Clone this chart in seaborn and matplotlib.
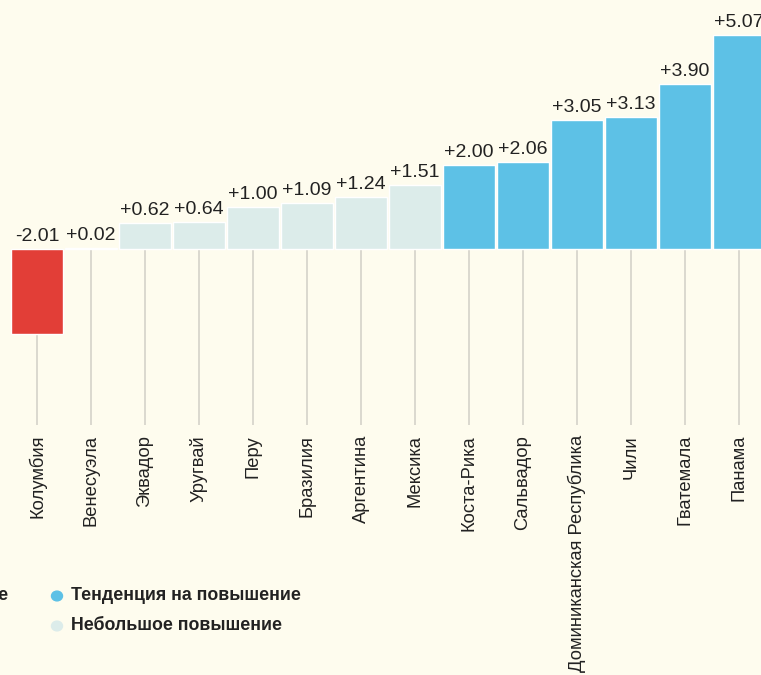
import matplotlib
matplotlib.use("Agg")
import matplotlib.pyplot as plt
import seaborn as sns
import pandas as pd

# data
countries = ["Колумбия", "Венесуэла", "Эквадор", "Уругвай", "Перу", "Бразилия",
             "Аргентина", "Мексика", "Коста-Рика", "Сальвадор",
             "Доминиканская Республика", "Чили", "Гватемала", "Панама"]
values = [-2.01, 0.02, 0.62, 0.64, 1.00, 1.09, 1.24, 1.51, 2.00, 2.06, 3.05, 3.13, 3.90, 5.07]
groups = ["Тенденция на понижение"] + ["Небольшое повышение"] * 7 + ["Тенденция на повышение"] * 6
group_colors = {"Тенденция на понижение": "#e23e37",
                "Небольшое повышение": "#dcecea",
                "Тенденция на повышение": "#5dc1e6"}

bg = "#fefcee"
df = pd.DataFrame({"country": countries, "value": values, "group": groups})

sns.set_style("white")
plt.rcParams["font.family"] = ["Liberation Sans", "DejaVu Sans"]

W, H = 761, 675
fig = plt.figure(figsize=(W / 100, H / 100), dpi=100, facecolor=bg)
ax = fig.add_axes([0, 0, 1, 1], facecolor=bg)

# pixel geometry: first bar centre at 37px, 54px per bar; zero at 249px, ~42.2px per unit
px_unit = 42.2
x0, step, y0 = 37, 54, 249

def ypx(p):
    return -(p - y0) / px_unit

# grey guide lines under each bar
for i, v in enumerate(values):
    ax.vlines(i, ypx(425), min(v, 0), color="#d8d6cc", lw=1.3, zorder=0)

sns.barplot(data=df, x="country", y="value", hue="group", palette=group_colors,
            order=countries, dodge=False, width=0.98, legend=False,
            saturation=1, ax=ax, zorder=2)

ax.set_xlim(-x0 / step, (W - x0) / step)
ax.set_ylim(-(H - y0) / px_unit, y0 / px_unit)

for i, v in enumerate(values):
    lbl = f"{v:+.2f}"
    ax.text(i, max(v, 0) + 4 / px_unit, lbl, ha="center", va="bottom",
            fontsize=14, color="#222222")
    ax.text(i, ypx(435), countries[i], rotation=90, ha="center", va="top",
            fontsize=13.2, color="#222222")

ax.axis("off")

# legend (first item partly cut off on the left as in the source)
fig.text(8 / W, 1 - 596 / H, "Тенденция на понижение", ha="right", va="center",
         fontsize=12.8, fontweight="bold", color="#222222")
fig.patches.append(plt.Circle((-240 / W, 1 - 596 / H), 5.5 / W,
                              transform=fig.transFigure,
                              color=group_colors["Тенденция на понижение"]))
legend_items = [("Тенденция на повышение", 57, 596),
                ("Небольшое повышение", 57, 626)]
for name, px, py in legend_items:
    fig.patches.append(plt.Circle((px / W, 1 - py / H), 5.5 / W,
                                  transform=fig.transFigure, color=group_colors[name]))
    fig.text((px + 14) / W, 1 - py / H, name, ha="left", va="center",
             fontsize=12.8, fontweight="bold", color="#222222")

fig.savefig("out.png", dpi=100, facecolor=bg)
